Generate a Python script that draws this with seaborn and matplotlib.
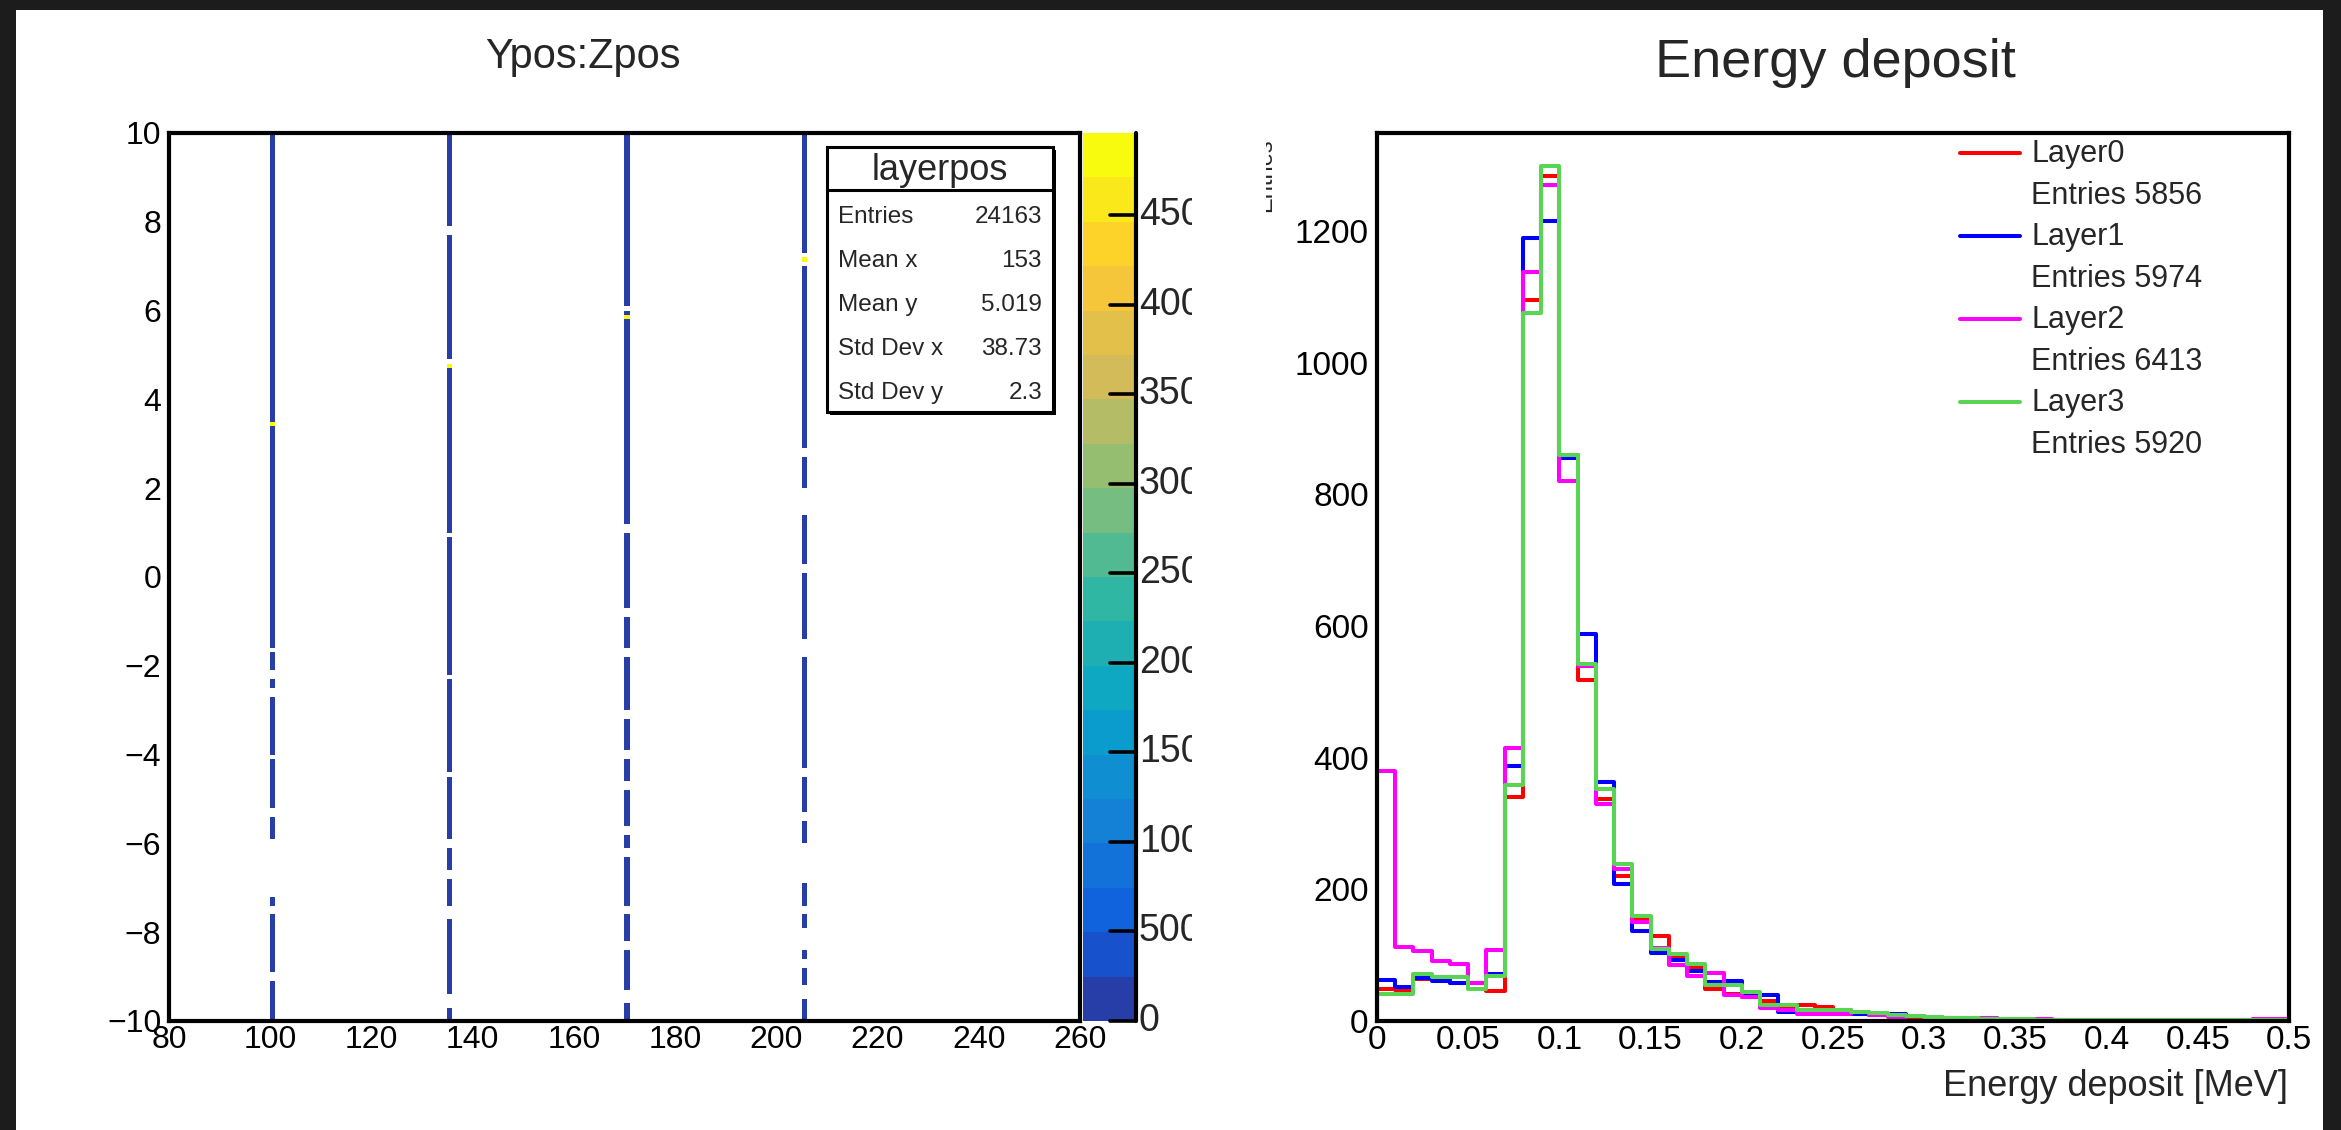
"""
Ypos:Zpos occupancy map and per-layer energy deposit spectra,
redrawn in the look of the ROOT canvas.
"""

import numpy as np
import pandas as pd
import matplotlib
matplotlib.use("Agg")
import matplotlib.pyplot as plt
import seaborn as sns
from matplotlib.colors import LinearSegmentedColormap, ListedColormap
from matplotlib.lines import Line2D
from matplotlib.patches import Rectangle
from matplotlib.ticker import MultipleLocator, FuncFormatter
from matplotlib.transforms import Bbox, TransformedBbox, blended_transform_factory

W, H = 2341, 1130

# ---------------- left panel: layerpos (Ypos vs Zpos) ----------------
LAYER_Z = [100.5, 135.5, 170.5, 205.5]
# occupied Ypos ranges (top, bottom) per layer column
LAYER_SEGMENTS = [
    [(10.0, -1.6), (-1.75, -2.1), (-2.3, -2.5), (-2.7, -4.0), (-4.1, -5.2),
     (-5.4, -5.9), (-7.25, -7.45), (-7.6, -8.9), (-9.1, -10.0)],
    [(10.0, 7.9), (7.7, 4.9), (4.7, 1.0), (0.9, -2.2), (-2.35, -4.4),
     (-4.5, -5.9), (-6.1, -6.6), (-6.8, -7.45), (-7.7, -9.45), (-9.75, -10.0)],
    [(10.0, 6.1), (6.0, 1.2), (1.0, -0.7), (-0.9, -1.6), (-1.8, -3.0),
     (-3.2, -3.9), (-4.1, -4.6), (-4.8, -5.6), (-5.8, -6.1), (-6.3, -7.4),
     (-7.6, -8.2), (-8.4, -9.35), (-9.65, -10.0)],
    [(10.0, 7.3), (7.0, 2.9), (2.7, 2.0), (1.4, 0.3), (0.1, -1.4),
     (-1.8, -4.3), (-4.5, -5.3), (-5.5, -6.0), (-6.9, -7.45), (-7.6, -7.95),
     (-8.45, -8.65), (-8.85, -9.2), (-9.5, -10.0)],
]
CELL_COUNT = 8
HOT_Y = [3.45, 4.75, 5.85, 7.15]
HOT_COUNTS = [4850, 4800, 4850, 4850]

STATS_TITLE = "layerpos"
STATS_NAMES = ["Entries", "Mean x", "Mean y", "Std Dev x", "Std Dev y"]
STATS_VALUES = ["24163", "153", "5.019", "38.73", "2.3"]

CBAR_MAX = 4960
CBAR_TICKS = [0, 500, 1000, 1500, 2000, 2500, 3000, 3500, 4000, 4500]

# ROOT kBird palette
BIRD_STOPS = [0.0, 0.125, 0.25, 0.375, 0.5, 0.625, 0.75, 0.875, 1.0]
BIRD_RGB = [(0.2082, 0.1664, 0.5293), (0.0592, 0.3599, 0.8684),
            (0.0780, 0.5041, 0.8385), (0.0232, 0.6419, 0.7914),
            (0.1802, 0.7178, 0.6425), (0.5301, 0.7492, 0.4662),
            (0.8186, 0.7328, 0.3499), (0.9956, 0.7862, 0.1968),
            (0.9764, 0.9832, 0.0539)]
N_LEVELS = 20

# ---------------- right panel: energy deposit ----------------
E_EDGES = [round(0.01 * i, 2) for i in range(51)]
LAYER_NAMES = ["Layer0", "Layer1", "Layer2", "Layer3"]
LAYER_ENTRIES = [5856, 5974, 6413, 5920]
LAYER_COLORS = ["#ff0000", "#0000ff", "#ff00ff", "#59d454"]

EDEP_L0 = [49, 47, 64, 67, 57, 57, 46, 340, 1096, 1284, 860, 518, 337, 220, 154,
           129, 97, 81, 49, 41, 36, 31, 21, 24, 22, 16, 11, 10, 7, 6,
           5, 4, 4, 3, 3, 2, 2, 2, 2, 1, 1, 2, 1, 1, 1, 1, 2, 1, 3, 3]
EDEP_L1 = [63, 52, 66, 61, 57, 58, 72, 388, 1190, 1215, 855, 588, 363, 208, 137,
           103, 93, 76, 59, 61, 39, 39, 14, 17, 14, 12, 11, 9, 10, 7,
           6, 5, 4, 4, 3, 3, 2, 2, 2, 1, 2, 1, 1, 2, 1, 1, 1, 1, 1, 1]
EDEP_L2 = [380, 113, 107, 91, 86, 58, 108, 415, 1138, 1270, 820, 540, 330, 231, 150,
           111, 85, 69, 73, 39, 37, 19, 17, 10, 11, 11, 14, 9, 6, 7,
           5, 4, 3, 4, 3, 2, 3, 2, 2, 1, 2, 1, 1, 1, 1, 2, 1, 1, 3, 3]
EDEP_L3 = [41, 41, 71, 67, 67, 49, 68, 359, 1075, 1299, 860, 542, 353, 238, 159,
           110, 102, 87, 54, 54, 44, 25, 24, 17, 17, 17, 14, 12, 9, 7,
           6, 5, 4, 3, 3, 3, 2, 2, 2, 2, 1, 1, 1, 1, 1, 1, 1, 1, 1, 1]
EDEP_YMAX = 1349


def fx(px):
    return px / W


def fy(py):
    return 1 - py / H


def minus(v):
    return f"{v:g}".replace("-", "\u2212")


def clip_right(t, x0, x1):
    box = Bbox.from_extents(fx(x0), 0, fx(x1), 1)
    t.set_clip_box(TransformedBbox(box, fig.transFigure))
    t.set_clip_on(True)
    return t


def style_axes(ax, xmaj, xmin, ymaj, ymin, label_size):
    for sp in ax.spines.values():
        sp.set_visible(True)
        sp.set_color("black")
        sp.set_linewidth(3)
    ax.xaxis.set_major_locator(MultipleLocator(xmaj))
    ax.xaxis.set_minor_locator(MultipleLocator(xmin))
    ax.yaxis.set_major_locator(MultipleLocator(ymaj))
    ax.yaxis.set_minor_locator(MultipleLocator(ymin))
    ax.tick_params(axis="both", which="both", direction="in", top=False,
                   right=False, colors="black", labelsize=label_size, width=2.6)
    ax.tick_params(axis="x", which="major", length=18, pad=3)
    ax.tick_params(axis="x", which="minor", length=9)
    ax.tick_params(axis="y", which="major", length=20, pad=5.5)
    ax.tick_params(axis="y", which="minor", length=10)
    ax.set_xlabel("")
    ax.set_ylabel("")
    ax.grid(False)


sns.set_style("white")
plt.rcParams["font.family"] = ["Liberation Sans", "DejaVu Sans"]

fig = plt.figure(figsize=(W / 100, H / 100), dpi=100)
fig.patch.set_facecolor("white")

ax1 = fig.add_axes([fx(169), fy(1021), (1080 - 169) / W, 888 / H])
cax = fig.add_axes([fx(1083), fy(1021), (1136 - 1083) / W, 888 / H])
ax2 = fig.add_axes([fx(1377), fy(1021), (2289 - 1377) / W, 888 / H])

# ---- left: 2D histogram ----
bird = LinearSegmentedColormap.from_list("bird", list(zip(BIRD_STOPS, BIRD_RGB)))
bird20 = ListedColormap([bird((i + 1) / N_LEVELS) for i in range(N_LEVELS)])

y_centers = np.arange(-9.95, 10.0, 0.1)
cell_z, cell_y, cell_w = [], [], []
for z, segs in zip(LAYER_Z, LAYER_SEGMENTS):
    for top, bot in segs:
        sel = y_centers[(y_centers <= top) & (y_centers >= bot)]
        cell_z += [z] * len(sel)
        cell_y += list(sel)
        cell_w += [CELL_COUNT] * len(sel)
for z, y, c in zip(LAYER_Z, HOT_Y, HOT_COUNTS):
    cell_z.append(z)
    cell_y.append(y)
    cell_w.append(c)
cells = pd.DataFrame({"zpos": cell_z, "ypos": cell_y, "n": cell_w})

sns.histplot(data=cells, x="zpos", y="ypos", weights="n",
             bins=[list(np.arange(80, 260.5, 1.0)), list(np.linspace(-10, 10, 201))],
             cmap=bird20, vmin=0, vmax=CBAR_MAX, cbar=True, cbar_ax=cax,
             ax=ax1)
ax1.set_xlim(80, 260)
ax1.set_ylim(-10, 10)
style_axes(ax1, 20, 5, 2, 0.5, 23)
ax1.xaxis.set_major_formatter(FuncFormatter(lambda v, p: minus(v)))
ax1.yaxis.set_major_formatter(FuncFormatter(lambda v, p: minus(v)))

# colour bar: axis line + inward ticks on the right side
cb = ax1.collections[0].colorbar
cb.outline.set_visible(False)
cb.set_ticks([])
cax.tick_params(which="both", length=0, labelleft=False, labelright=False)
cb_axis = blended_transform_factory(cax.transAxes, cax.transData)
cax.add_line(Line2D([1, 1], [0, 1], transform=cax.transAxes, color="black",
                    lw=3, clip_on=False, zorder=5))
for v in CBAR_TICKS:
    cax.add_line(Line2D([0.5, 1.0], [v, v], transform=cb_axis, color="black",
                        lw=2.6, clip_on=False, zorder=5))
cb_trans = blended_transform_factory(fig.transFigure, cax.transData)
for v in CBAR_TICKS:
    t = fig.text(fx(1139), v, str(v), transform=cb_trans, ha="left",
                 va="center", fontsize=27)
    clip_right(t, 1137, 1192)

# stats box
fig.patches.append(Rectangle((fx(830), fy(415)), (1056 - 830) / W, (415 - 150) / H,
                             transform=fig.transFigure, facecolor="black",
                             edgecolor="none", zorder=5))
fig.patches.append(Rectangle((fx(827), fy(412)), (1053 - 827) / W, (412 - 147) / H,
                             transform=fig.transFigure, facecolor="white",
                             edgecolor="black", lw=2.2, zorder=6))
fig.add_artist(Line2D([fx(827), fx(1053)], [fy(190), fy(190)], color="black",
                      lw=2.2, zorder=7))
fig.text(fx(940), fy(180), STATS_TITLE, ha="center", va="baseline",
         fontsize=26, zorder=8)
for i, (name, val) in enumerate(zip(STATS_NAMES, STATS_VALUES)):
    yb = 223 + 44 * i
    fig.text(fx(838), fy(yb), name, ha="left", va="baseline", fontsize=17.5, zorder=8)
    fig.text(fx(1042), fy(yb), val, ha="right", va="baseline", fontsize=17.5, zorder=8)

fig.text(fx(583), fy(68), "Ypos:Zpos", ha="center", va="baseline", fontsize=30)

# ---- right: energy deposit histograms ----
e_centers = [round(0.5 * (a + b), 3) for a, b in zip(E_EDGES[:-1], E_EDGES[1:])]
layer_counts = [EDEP_L0, EDEP_L1, EDEP_L2, EDEP_L3]
for counts, color in zip(layer_counts, LAYER_COLORS):
    edep = pd.DataFrame({"edep": e_centers, "n": counts})
    sns.histplot(data=edep, x="edep", weights="n", bins=E_EDGES, element="step",
                 fill=False, color=color, linewidth=2.9, ax=ax2)
    ax2.vlines([E_EDGES[0], E_EDGES[-1]], 0, [counts[0], counts[-1]],
               color=color, linewidth=2.9)
ax2.set_xlim(0, 0.5)
ax2.set_ylim(0, EDEP_YMAX)
style_axes(ax2, 0.05, 0.01, 200, 50, 24)
ax2.yaxis.set_tick_params(pad=6)
ax2.xaxis.set_major_formatter(FuncFormatter(lambda v, p: f"{v:g}"))
ax2.yaxis.set_major_formatter(FuncFormatter(lambda v, p: f"{v:g}"))

fig.text(fx(2288), fy(1096), "Energy deposit [MeV]", ha="right",
         va="baseline", fontsize=26)
fig.text(fx(1835), fy(77), "Energy deposit", ha="center", va="baseline",
         fontsize=39)

# y title mostly hidden by the pad edge
t = fig.text(fx(1271), fy(138), "Entries", rotation=90, rotation_mode="anchor",
             ha="right", va="baseline", fontsize=17)
clip_right(t, 1266, 1300)

# legend
for i, (name, n, color) in enumerate(zip(LAYER_NAMES, LAYER_ENTRIES, LAYER_COLORS)):
    base = 162 + 83 * i
    fig.add_artist(Line2D([fx(1960), fx(2020)], [fy(base - 9), fy(base - 9)],
                          color=color, lw=2.9))
    fig.text(fx(2031), fy(base), name, ha="left", va="baseline", fontsize=22)
    fig.text(fx(2031), fy(base + 42), f"Entries {n}", ha="left",
             va="baseline", fontsize=22)

# dark window frame
for x0, y0, w, h in [(0, 0, 16, H), (0, 0, W, 10), (2323, 0, W - 2323, H)]:
    fig.patches.append(Rectangle((fx(x0), fy(y0 + h)), w / W, h / H,
                                 transform=fig.transFigure, facecolor="#1c1c1c",
                                 edgecolor="none", zorder=10))

fig.savefig("out.png", dpi=100)
